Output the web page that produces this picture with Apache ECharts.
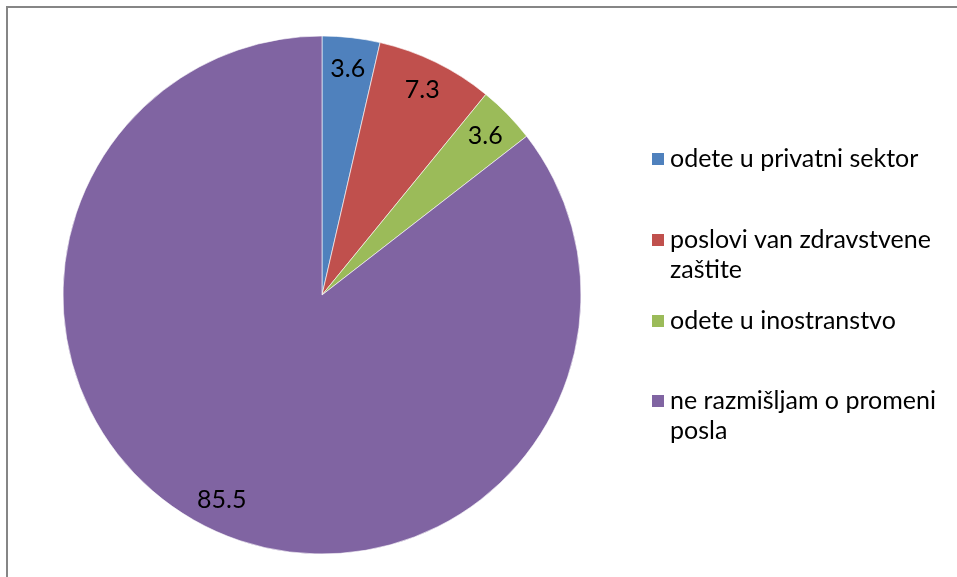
<!DOCTYPE html>
<html>
<head>
<meta charset="utf-8">
<script src="https://cdn.jsdelivr.net/npm/echarts@6/dist/echarts.min.js"></script>
<style>
html,body{margin:0;padding:0;background:#fff;}
#chart{width:957px;height:577px;}
</style>
</head>
<body>
<div id="chart"></div>
<script>
const categories = ['odete u privatni sektor', 'poslovi van zdravstvene\nzaštite', 'odete u inostranstvo', 'ne razmišljam o promeni\nposla'];
const values = [3.6, 7.3, 3.6, 85.5];
const colors = ['#4F81BD', '#C0504D', '#9BBB59', '#8064A2'];

const FONT = 'Lato';
const FS = 25;
const data = categories.map((c, i) => ({ name: c, value: values[i], itemStyle: { color: colors[i] } }));

const legendCenters = [159, 240, 321, 401];
const legends = categories.map((c, i) => {
  const lines = c.split('\n').length;
  const top = lines > 1 ? legendCenters[i] - 45 : legendCenters[i] - 15;
  return {
    orient: 'vertical',
    left: 650,
    top: top,
    padding: 0,
    icon: 'rect',
    itemWidth: 14,
    itemHeight: 14,
    itemGap: 0,
    selectedMode: false,
    data: [c],
    formatter: name => (name.indexOf('\n') >= 0 ? '\n' + name : name),
    textStyle: {
      fontFamily: FONT,
      fontSize: FS,
      color: '#000',
      lineHeight: 30
    }
  };
});

const chart = echarts.init(document.getElementById('chart'), null, { renderer: 'canvas' });
chart.setOption({
  backgroundColor: '#fff',
  animation: false,
  legend: legends,
  graphic: [{
    type: 'rect',
    shape: { x: 7, y: 7, width: 1000, height: 1000 },
    style: { fill: 'none', stroke: '#868686', lineWidth: 2 },
    silent: true
  }],
  series: [{
    type: 'pie',
    center: [322, 295],
    radius: [0, 259],
    startAngle: 90,
    clockwise: true,
    label: { show: false },
    labelLine: { show: false },
    itemStyle: { borderColor: '#ffffff', borderWidth: 0.6 },
    emphasis: { disabled: true },
    data: data
  }, {
    type: 'pie',
    center: [322, 295],
    radius: [191, 259],
    startAngle: 90,
    clockwise: true,
    silent: true,
    legendHoverLink: false,
    itemStyle: { color: 'rgba(0,0,0,0)' },
    label: {
      show: true,
      position: 'inside',
      formatter: p => values[p.dataIndex].toFixed(1),
      fontFamily: FONT,
      fontSize: FS,
      color: '#000'
    },
    labelLine: { show: false },
    emphasis: { disabled: true },
    data: categories.map((c, i) => ({ name: c, value: values[i], itemStyle: { color: 'rgba(0,0,0,0)' } }))
  }]
});
</script>
</body>
</html>
